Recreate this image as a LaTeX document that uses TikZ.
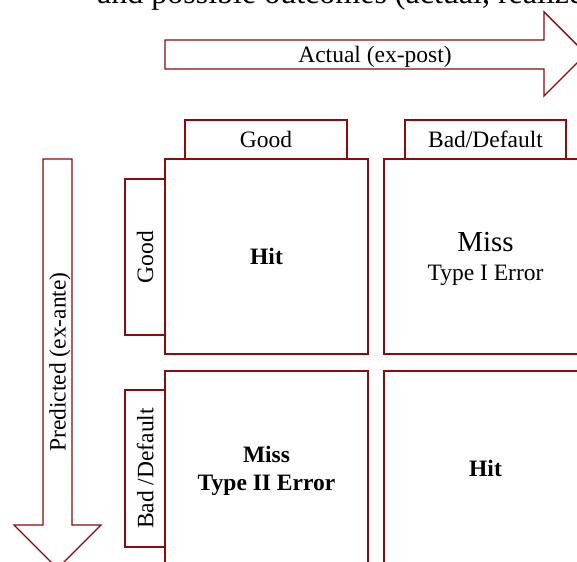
\documentclass[tikz,border=0pt]{standalone}
\usepackage{fontspec}
\setmainfont{Liberation Serif}
\definecolor{dred}{RGB}{139,10,10}
\begin{document}
\begin{tikzpicture}[x=1pt,y=-1pt,
  box/.style={draw=dred, line width=1.4pt, fill=white, inner sep=0pt, outer sep=0pt},
  lbl/.style={font=\fontsize{23.5}{28.5}\selectfont, inner sep=0pt, text depth=0pt},
  blbl/.style={font=\fontsize{23.5}{28}\selectfont\bfseries, inner sep=0pt, text depth=0pt},
  arrowshape/.style={draw=dred, line width=1.4pt, fill=white, line join=miter}]
\useasboundingbox (0,0) rectangle (577,561);
% partially visible title
\node[anchor=base west, inner sep=0pt, font=\fontsize{32}{38}\selectfont] (title) at (97,4) {and possible outcomes (actual, realized)};
% horizontal arrow
\draw[arrowshape] (165,40) -- (544,40) -- (544,12) -- (586,54) -- (544,96) -- (544,69) -- (165,69) -- cycle;
\node[lbl] (actual) at (375,54) {Actual (ex-post)};
% vertical arrow
\draw[arrowshape] (43,159) -- (72,159) -- (72,525) -- (101,525) -- (57.5,568.5) -- (14,525) -- (43,525) -- cycle;
\node[lbl, rotate=90] (pred) at (57.5,362) {Predicted (ex-ante)};
% column headers
\node[box, lbl, minimum width=162, minimum height=39] (hgood) at (266,139.5) {Good};
\node[box, lbl, minimum width=161, minimum height=39] (hbad) at (485.5,139.5) {Bad/Default};
% row headers
\node[box, lbl, rotate=90, minimum width=156, minimum height=40] (rgood) at (145,257) {Good};
\node[box, lbl, rotate=90, minimum width=157, minimum height=40] (rbad) at (145,468.5) {Bad /Default};
% cells
\node[box, blbl, align=center, minimum width=203, minimum height=195, anchor=north west] (c11) at (165,159) {Hit};
\node[box, lbl, align=center, minimum width=203, minimum height=195, anchor=north west] (c12) at (384,159) {{\fontsize{29}{30}\selectfont Miss}\\[1pt]Type I Error};
\node[box, blbl, align=center, minimum width=203, minimum height=195, anchor=north west] (c21) at (165,371) {Miss\\Type II Error};
\node[box, blbl, align=center, minimum width=203, minimum height=195, anchor=north west] (c22) at (384,371) {Hit};
\end{tikzpicture}
\end{document}
